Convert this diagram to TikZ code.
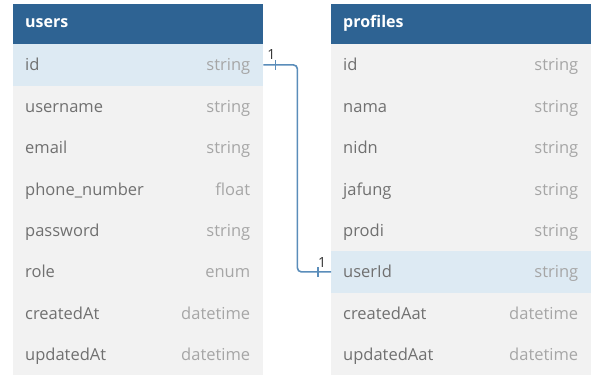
\documentclass[tikz,border=0pt]{standalone}
\usepackage{fontspec}
\setmainfont{Open Sans}
\definecolor{hdr}{HTML}{2E6393}
\definecolor{rowbg}{HTML}{F2F2F2}
\definecolor{hlbg}{HTML}{DDEAF3}
\definecolor{fname}{HTML}{707070}
\definecolor{ftype}{HTML}{A6A6A6}
\definecolor{conn}{HTML}{5A8DBA}
\tikzset{
  hdrbox/.style={fill=hdr, draw=none, anchor=north west, minimum height=40pt, inner sep=0pt},
  rowbox/.style={fill=rowbg, draw=none, anchor=north west, minimum height=41.4pt, inner sep=0pt},
  hlbox/.style={rowbox, fill=hlbg},
  hdrtext/.style={anchor=base west, text=white, font=\fontsize{16}{18}\selectfont\bfseries, inner sep=0pt},
  nametext/.style={anchor=base west, text=fname, font=\fontsize{16.5}{18}\selectfont, inner sep=0pt},
  typetext/.style={anchor=base east, text=ftype, font=\fontsize{16.5}{18}\selectfont, inner sep=0pt},
  conline/.style={draw=conn, line width=1.6pt, rounded corners=4pt},
  tick/.style={draw=conn, line width=1.2pt},
  cardtext/.style={text=black!80, font=\fontsize{14}{16}\selectfont, inner sep=0pt}
}
\begin{document}
\begin{tikzpicture}[x=1pt,y=-1pt]
\useasboundingbox (0,0) rectangle (600,376);
\fill[white] (0,0) rectangle (600,376);
% users table
\node[hdrbox, minimum width=250pt] (uh) at (13,4) {};
\node[hdrtext] (uht) at ([xshift=12pt,yshift=-3pt]uh.west) {users};
\foreach \i/\n/\t/\s in {1/id/string/hlbox, 2/username/string/rowbox, 3/email/string/rowbox, 4/phone\_number/float/rowbox, 5/password/string/rowbox, 6/role/enum/rowbox, 7/createdAt/datetime/rowbox, 8/updatedAt/datetime/rowbox}{
  \node[\s, minimum width=250pt] (u\i) at (13,{44+41.4*(\i-1)}) {};
  \node[nametext] (u\i n) at ([xshift=12pt,yshift=-6pt]u\i.west) {\n};
  \node[typetext] (u\i t) at ([xshift=-13pt,yshift=-6pt]u\i.east) {\t};
}
% profiles table
\node[hdrbox, minimum width=260pt] (ph) at (331,4) {};
\node[hdrtext] (pht) at ([xshift=12pt,yshift=-3pt]ph.west) {profiles};
\foreach \i/\n/\t/\s in {1/id/string/rowbox, 2/nama/string/rowbox, 3/nidn/string/rowbox, 4/jafung/string/rowbox, 5/prodi/string/rowbox, 6/userId/string/hlbox, 7/createdAat/datetime/rowbox, 8/updatedAat/datetime/rowbox}{
  \node[\s, minimum width=260pt] (p\i) at (331,{44+41.4*(\i-1)}) {};
  \node[nametext] (p\i n) at ([xshift=12pt,yshift=-6pt]p\i.west) {\n};
  \node[typetext] (p\i t) at ([xshift=-13pt,yshift=-6pt]p\i.east) {\t};
}
% connector
\draw[conline] (u1.east) -- ++(34,0) |- (p6.west);
\draw[tick] ([xshift=12pt,yshift=-5pt]u1.east) -- ([xshift=12pt,yshift=5pt]u1.east);
\draw[tick] ([xshift=-13pt,yshift=-5pt]p6.west) -- ([xshift=-13pt,yshift=5pt]p6.west);
\node[cardtext] (c1) at ([xshift=8pt,yshift=10pt]u1.east) {1};
\node[cardtext] (c2) at ([xshift=-9pt,yshift=9pt]p6.west) {1};
\end{tikzpicture}
\end{document}
